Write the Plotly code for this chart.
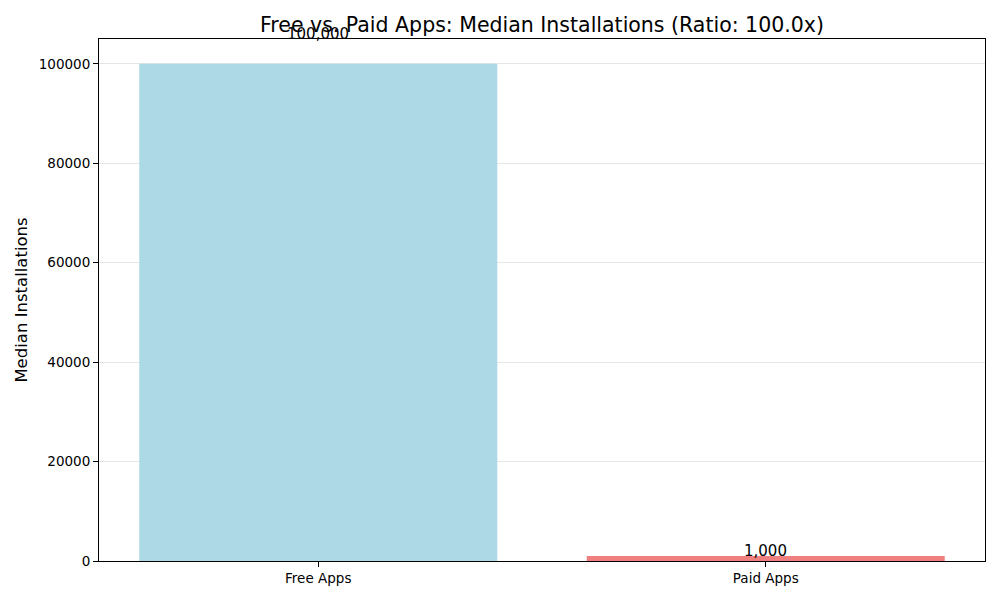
import plotly.graph_objects as go

categories = ["Free Apps", "Paid Apps"]
median_installs = [100000, 1000]
bar_colors = ["#ADD8E6", "#F08080"]
y_ticks = [0, 20000, 40000, 60000, 80000, 100000]
ratio = median_installs[0] / median_installs[1]

fig = go.Figure()
fig.add_trace(go.Bar(
    x=categories, y=median_installs, width=0.8,
    marker=dict(color=bar_colors, line=dict(width=0)),
    cliponaxis=False, showlegend=False,
))

font_family = "DejaVu Sans"
for c, v in zip(categories, median_installs):
    fig.add_annotation(
        x=c, y=v * 1.05, xref="x", yref="y",
        text=f"{v:,}", showarrow=False, yanchor="bottom", xanchor="center",
        font=dict(family=font_family, size=15, color="black"),
        yshift=-6,
    )

fig.add_annotation(
    x=0.5, y=1, xref="paper", yref="paper",
    text=f"Free vs. Paid Apps: Median Installations (Ratio: {ratio:.1f}x)",
    showarrow=False, xanchor="center", yanchor="bottom", yshift=0,
    font=dict(family=font_family, size=20.5, color="black"),
)

fig.update_layout(
    width=1000, height=600,
    margin=dict(l=99, r=15, t=39, b=39),
    plot_bgcolor="white", paper_bgcolor="white",
    font=dict(family=font_family, size=14, color="black"),
    bargap=0.2,
)
fig.update_xaxes(
    range=[-0.49, 1.49], showline=True, linecolor="black", linewidth=1,
    mirror=True, ticks="outside", ticklen=5, tickcolor="black",
    showgrid=False, tickfont=dict(size=13.5, color="black"),
)
fig.update_yaxes(
    range=[0, 105000], tickvals=y_ticks, tickformat="d",
    showline=True, linecolor="black", linewidth=1, mirror=True,
    ticks="outside", ticklen=5, tickcolor="black",
    showgrid=True, gridcolor="#E6E6E6", gridwidth=0.8, zeroline=False,
    tickfont=dict(size=13.5, color="black"),
    title=dict(text="Median Installations", font=dict(size=16.5, color="black"), standoff=6),
)

fig.write_html("out.html")
